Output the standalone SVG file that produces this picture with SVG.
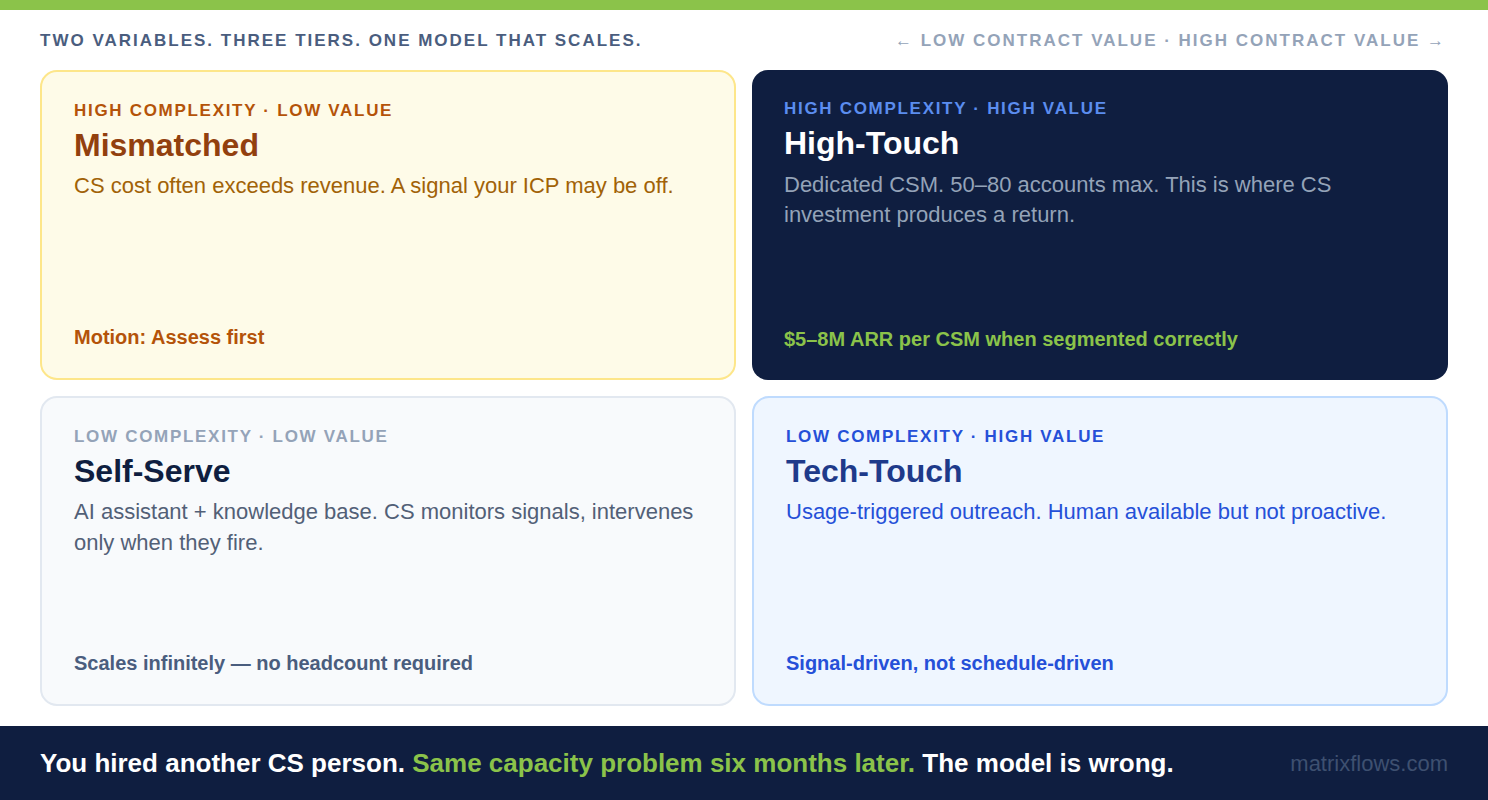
<svg xmlns="http://www.w3.org/2000/svg" width="1488" height="800" viewBox="0 0 1488 800">
<style>
text{font-family:"Liberation Sans",Arial,sans-serif}
.hdr{font-size:17px;font-weight:700;letter-spacing:2px}
.lbl{font-size:17px;font-weight:700;letter-spacing:1.7px}
.ttl{font-size:32px;font-weight:700}
.dsc{font-size:22px}
.bot{font-size:20px;font-weight:700}
.ft{font-size:26px;font-weight:700}
</style>
<rect x="0" y="0" width="1488" height="800" fill="#ffffff"/>
<rect x="0" y="0" width="1488" height="10" fill="#8bc34a"/>
<g id="header">
<text class="hdr" x="40" y="46" fill="#4a5d7e">TWO VARIABLES. THREE TIERS. ONE MODEL THAT SCALES.</text>
<text class="hdr" x="1446" y="46" fill="#94a3b8" text-anchor="end">← LOW CONTRACT VALUE · HIGH CONTRACT VALUE →</text>
</g>
<g id="mismatched">
<rect x="41" y="71" width="694" height="308" rx="16" fill="#fefbe8" stroke="#fde68a" stroke-width="2"/>
<text class="lbl" x="74" y="116" fill="#b45309">HIGH COMPLEXITY · LOW VALUE</text>
<text class="ttl" x="74" y="156" fill="#92400e">Mismatched</text>
<text class="dsc" x="74" y="193" fill="#a16207">CS cost often exceeds revenue. A signal your ICP may be off.</text>
<text class="bot" x="74" y="344" fill="#b45309">Motion: Assess first</text>
</g>
<g id="high-touch">
<rect x="752" y="70" width="696" height="310" rx="16" fill="#0f1e40"/>
<text class="lbl" x="784" y="114" fill="#5b8def">HIGH COMPLEXITY · HIGH VALUE</text>
<text class="ttl" x="784" y="154" fill="#ffffff">High-Touch</text>
<text class="dsc" x="784" y="192" fill="#94a3b8">Dedicated CSM. 50–80 accounts max. This is where CS</text>
<text class="dsc" x="784" y="222" fill="#94a3b8">investment produces a return.</text>
<text class="bot" x="784" y="346" fill="#8bc34a">$5–8M ARR per CSM when segmented correctly</text>
</g>
<g id="self-serve">
<rect x="41" y="397" width="694" height="308" rx="16" fill="#f8fafc" stroke="#e2e8f0" stroke-width="2"/>
<text class="lbl" x="74" y="442" fill="#94a3b8">LOW COMPLEXITY · LOW VALUE</text>
<text class="ttl" x="74" y="482" fill="#0f1e40">Self-Serve</text>
<text class="dsc" x="74" y="519" fill="#526077">AI assistant + knowledge base. CS monitors signals, intervenes</text>
<text class="dsc" x="74" y="550" fill="#526077">only when they fire.</text>
<text class="bot" x="74" y="670" fill="#4a5d7e">Scales infinitely — no headcount required</text>
</g>
<g id="tech-touch">
<rect x="753" y="397" width="694" height="308" rx="16" fill="#eff6ff" stroke="#bfdbfe" stroke-width="2"/>
<text class="lbl" x="786" y="442" fill="#2550d8">LOW COMPLEXITY · HIGH VALUE</text>
<text class="ttl" x="786" y="482" fill="#1e3a8a">Tech-Touch</text>
<text class="dsc" x="786" y="519" fill="#2550d8">Usage-triggered outreach. Human available but not proactive.</text>
<text class="bot" x="786" y="670" fill="#2550d8">Signal-driven, not schedule-driven</text>
</g>
<g id="footer">
<rect x="0" y="726" width="1488" height="74" fill="#0f1e40"/>
<text class="ft" x="40" y="772" fill="#ffffff">You hired another CS person. <tspan fill="#8bc34a">Same capacity problem six months later.</tspan> The model is wrong.</text>
<text x="1448" y="771" font-size="22" fill="#3e5070" text-anchor="end">matrixflows.com</text>
</g>
<g id="connectors"></g>
</svg>
